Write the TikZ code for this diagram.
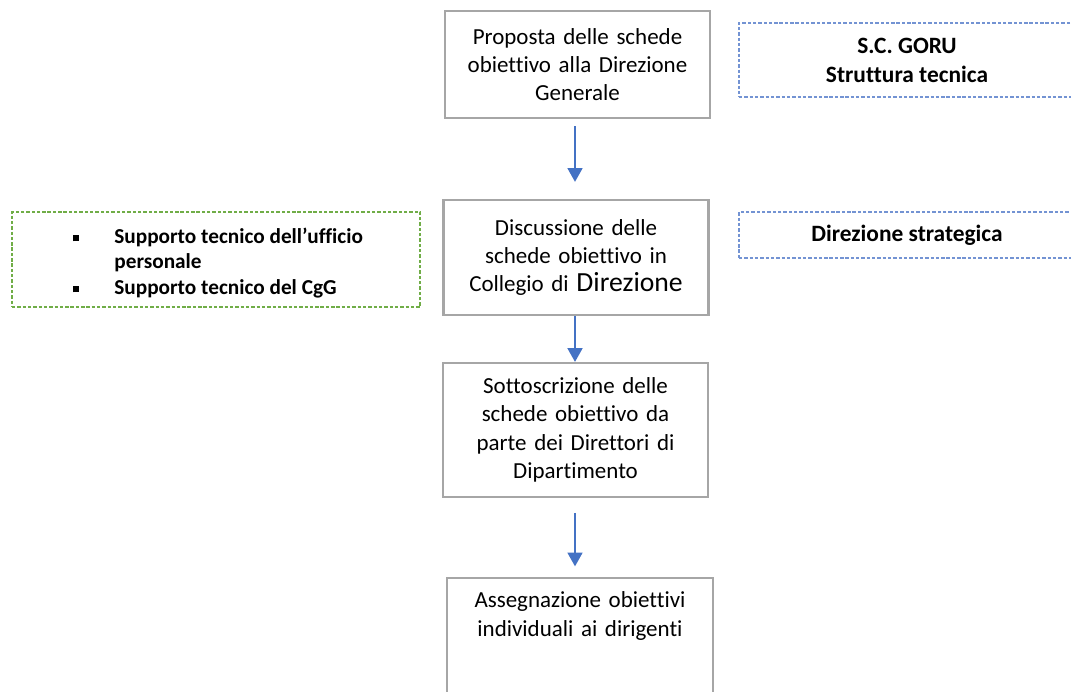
\documentclass[tikz,border=0pt]{standalone}
\usepackage{fontspec}
\setmainfont{Carlito}[Ligatures=CommonOff]
\usetikzlibrary{arrows.meta}
\definecolor{boxgray}{HTML}{A6A6A6}
\definecolor{arrowblue}{HTML}{4472C4}
\definecolor{dashblue}{HTML}{7393D3}
\definecolor{dashgreen}{HTML}{70AD47}
\newcommand{\sqbullet}{\rule[0.2ex]{2.8pt}{2.8pt}}

\begin{document}
\begin{tikzpicture}[x=0.47pt,y=-0.47pt]
    % Define styles
    \tikzstyle{process} = [rectangle, draw=boxgray, line width=1pt, minimum width=124.6pt,
                          text width=122pt, align=center, inner sep=0pt,
                          font=\fontsize{10.8}{13.3}\selectfont]
    \tikzstyle{actor} = [rectangle, draw=dashblue, line width=0.7pt, dash pattern=on 1.6pt off 0.9pt,
                        minimum width=157.9pt, align=center, inner sep=0pt,
                        font=\bfseries\fontsize{11}{13.6}\selectfont]
    \tikzstyle{support} = [rectangle, draw=dashgreen, line width=0.7pt, dash pattern=on 1.6pt off 0.9pt,
                          minimum width=191.8pt, minimum height=44.7pt, inner sep=0pt,
                          font=\bfseries\fontsize{10}{12}\selectfont]
    \tikzstyle{arrow} = [draw=arrowblue, line width=1pt, -{Triangle[width=7pt,length=6.5pt]}]

    \useasboundingbox (0,0) rectangle (1071,691);

    % Main flow, nodes positioned absolutely
    \node[process, minimum height=50.3pt] (proposal) at (577.5,64.5)
        {Proposta delle schede\\obiettivo alla Direzione\\Generale};
    \node[process, minimum height=54.1pt] (discussion) at (576,257.5)
        {Discussione delle\\schede obiettivo in\\Collegio di {\fontsize{13}{13.3}\selectfont Direzione}};
    \node[process, minimum height=63pt] (signing) at (575.5,430)
        {Sottoscrizione delle\\schede obiettivo da\\parte dei Direttori di\\Dipartimento};
    \node[process, anchor=north, minimum width=125pt, inner ysep=6.5pt, text depth=50pt] (assignment) at (580,577)
        {Assegnazione obiettivi\\individuali ai dirigenti};

    % Side boxes
    \node[actor, minimum height=34.8pt] (goru) at (907,60) {S.C. GORU\\Struttura tecnica};
    \node[actor, minimum height=21.6pt] (strategy) at (907,235) {Direzione strategica};
    \node[support] (staff) at (216,259.5) {%
        \hspace*{2pt}\raisebox{-2pt}[\height][\depth]{\begin{tabular}{@{}l@{\hspace{16.5pt}}l@{}}
            \sqbullet & Supporto tecnico dell’ufficio\\
                      & personale\\
            \sqbullet & Supporto tecnico del CgG
        \end{tabular}}};

    % Arrows
    \draw[arrow, shorten <=3.3pt, shorten >=8pt] (proposal.south -| 575,0) -- (discussion.north -| 575,0);
    \draw[arrow] (discussion.south -| 575,0) -- (signing.north -| 575,0);
    \draw[arrow, shorten <=7pt, shorten >=5pt] (signing.south -| 575,0) -- (assignment.north -| 575,0);
\end{tikzpicture}
\end{document}
